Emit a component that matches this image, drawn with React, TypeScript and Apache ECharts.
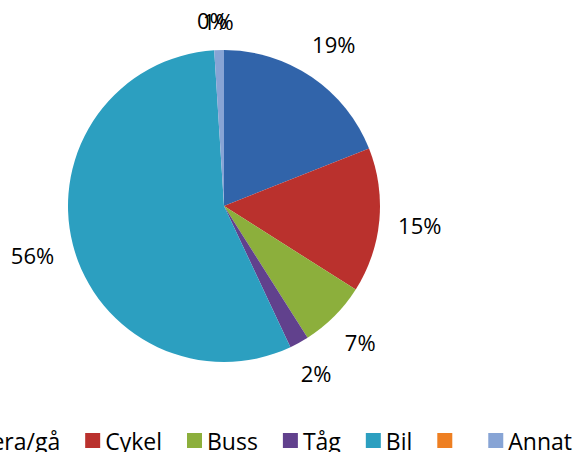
import React, { useEffect, useRef } from "react";
import * as echarts from "echarts";

const categories = ["Promenera/gå", "Cykel", "Buss", "Tåg", "Bil", "Övrigt", "Annat"];
const values = [19, 15, 7, 2, 56, 0, 1];
const colors = ["#3164AA", "#BA312D", "#8CAF3C", "#61418D", "#2C9FC0", "#EE7F22", "#87A4D5"];
const hiddenLegendText = ["Övrigt"];

const CX = 224;
const CY = 206;
const R = 156;
const GAP = 18;
const FONT = "'Open Sans', 'Noto Sans', sans-serif";

export default function App() {
  const ref = useRef<HTMLDivElement>(null);

  useEffect(() => {
    if (!ref.current) return;
    const chart = echarts.init(ref.current, undefined, { renderer: "svg" });
    const total = values.reduce((a, b) => a + b, 0);

    chart.setOption({
      animation: false,
      backgroundColor: "#ffffff",
      color: colors,
      legend: {
        data: categories,
        orient: "horizontal",
        left: -114,
        top: 429,
        width: 1000,
        padding: 0,
        itemWidth: 15,
        itemHeight: 15,
        itemGap: 25,
        icon: "rect",
        selectedMode: false,
        formatter: (name: string) => (hiddenLegendText.includes(name) ? "\u00a0" : name),
        textStyle: { fontSize: 23, fontFamily: FONT, color: "#000000" },
      },
      series: [
        {
          type: "pie",
          center: [CX, CY],
          radius: [0, R],
          startAngle: 90,
          clockwise: true,
          avoidLabelOverlap: false,
          emphasis: { disabled: true },
          itemStyle: { borderWidth: 0 },
          label: {
            show: true,
            position: "inside",
            formatter: (p: any) => `${p.value}%`,
            fontSize: 22,
            fontFamily: FONT,
            color: "#000000",
          },
          labelLine: { show: false },
          labelLayout: (params: any) => {
            const i = params.dataIndex;
            let before = 0;
            for (let k = 0; k < i; k++) before += values[k];
            const theta = ((before + values[i] / 2) / total) * Math.PI * 2;
            const dx = Math.sin(theta);
            const dy = -Math.cos(theta);
            const hw = params.labelRect.width / 2;
            const hh = params.labelRect.height / 2;
            const d = R + GAP + Math.abs(dx) * hw + Math.abs(dy) * hh;
            return { x: CX + dx * d, y: CY + dy * d };
          },
          data: categories.map((name, i) => ({ name, value: values[i] })),
        },
      ],
    });

    return () => chart.dispose();
  }, []);

  return (
    <div
      ref={ref}
      style={{ position: "fixed", left: 0, top: 0, width: 574, height: 452 }}
    />
  );
}
